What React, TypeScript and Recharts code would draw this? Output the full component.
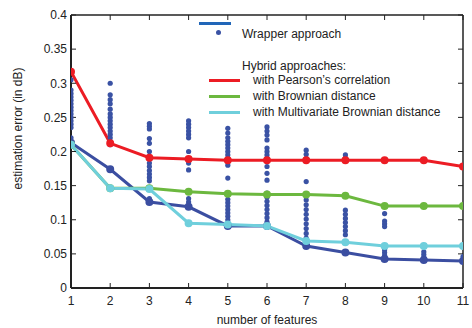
import { ComposedChart, Line, Scatter, XAxis, YAxis } from 'recharts';

const features = [1, 2, 3, 4, 5, 6, 7, 8, 9, 10, 11];
const wrapperBest = [0.213, 0.174, 0.126, 0.119, 0.091, 0.091, 0.0615, 0.052, 0.0425, 0.041, 0.0395];
const pearson = [0.317, 0.212, 0.191, 0.189, 0.187, 0.187, 0.187, 0.187, 0.187, 0.187, 0.178];
const brownian = [0.21, 0.146, 0.146, 0.141, 0.138, 0.137, 0.137, 0.135, 0.12, 0.12, 0.12];
const multivariate = [0.21, 0.146, 0.145, 0.095, 0.093, 0.091, 0.069, 0.067, 0.0615, 0.0615, 0.0615];

// all wrapper runs, one list per number of features
const wrapperRuns: number[][] = [
  [0.305, 0.29, 0.285, 0.28, 0.275, 0.27, 0.265, 0.26, 0.255, 0.25, 0.245, 0.24, 0.235, 0.22, 0.215],
  [0.3, 0.283, 0.276, 0.27, 0.262, 0.255, 0.25, 0.245, 0.24, 0.235, 0.23, 0.225, 0.22, 0.215, 0.21],
  [0.241, 0.237, 0.233, 0.219, 0.212, 0.2, 0.192, 0.183, 0.178, 0.172, 0.167, 0.162, 0.157, 0.146, 0.131, 0.126],
  [0.245, 0.24, 0.235, 0.23, 0.225, 0.22, 0.2, 0.19, 0.183, 0.173, 0.131, 0.126],
  [0.234, 0.227, 0.22, 0.215, 0.21, 0.205, 0.2, 0.195, 0.19, 0.185, 0.18, 0.161, 0.13, 0.125, 0.12, 0.115, 0.11, 0.105, 0.1, 0.095, 0.09],
  [0.236, 0.23, 0.224, 0.217, 0.205, 0.2, 0.195, 0.19, 0.178, 0.168, 0.158, 0.139, 0.133, 0.127, 0.121, 0.115, 0.109, 0.103, 0.097, 0.09],
  [0.202, 0.196, 0.19, 0.186, 0.156, 0.129, 0.122, 0.115, 0.108, 0.101, 0.094, 0.087, 0.08, 0.073, 0.066],
  [0.195, 0.19, 0.114, 0.108, 0.102, 0.096, 0.09, 0.084, 0.078],
  [0.109, 0.098, 0.094, 0.09, 0.056, 0.052, 0.048, 0.044],
  [0.053, 0.049, 0.045, 0.041],
  [0.046, 0.042, 0.039],
];

const yTicks = [0, 0.05, 0.1, 0.15, 0.2, 0.25, 0.3, 0.35, 0.4];

const chartData = features.map((x, i) => ({
  x,
  wrapper: wrapperBest[i],
  pearson: pearson[i],
  brownian: brownian[i],
  multivariate: multivariate[i],
}));

const scatterData = features.flatMap((x, i) => wrapperRuns[i].map(y => ({ x, y })));

const AXIS = '#222';
const DOT = '#3a52a4';
const tickStyle = { fill: '#222', fontSize: 12 };
const noLabel = () => <g />;

// y label sits a bit above the middle of the axis, like the original figure
const YLabel = ({ viewBox }: any) => {
  const cx = viewBox.x + 18;
  const cy = viewBox.y + viewBox.height / 2 - 23;
  return (
    <text x={cx} y={cy} transform={`rotate(-90, ${cx}, ${cy})`} textAnchor="middle" dominantBaseline="central" fill="#222" fontSize={12}>
      estimation error (in dB)
    </text>
  );
};

function Legend() {
  const row = (color: string, top: number, label: string) => (
    <div style={{ position: 'absolute', left: 209, top, display: 'flex', alignItems: 'center', height: 14 }}>
      <div style={{ width: 31, height: 3, background: color }} />
      <span style={{ marginLeft: 13, whiteSpace: 'nowrap' }}>{label}</span>
    </div>
  );
  return (
    <div style={{ position: 'absolute', left: 0, top: 0, fontSize: 12, color: '#222', lineHeight: '14px' }}>
      <div style={{ position: 'absolute', left: 199, top: 22, width: 32, height: 3, background: '#2166b8' }} />
      <div style={{ position: 'absolute', left: 215.5, top: 29.5, width: 5, height: 5, borderRadius: 3, background: DOT }} />
      <span style={{ position: 'absolute', left: 242, top: 27, whiteSpace: 'nowrap' }}>Wrapper approach</span>
      <span style={{ position: 'absolute', left: 242, top: 59, whiteSpace: 'nowrap' }}>Hybrid approaches:</span>
      {row('#ec1c24', 73, 'with Pearson’s correlation')}
      {row('#6cb83f', 89, 'with Brownian distance')}
      {row('#6fcfdc', 105, 'with Multivariate Brownian distance')}
    </div>
  );
}

export default function App() {
  return (
    <div style={{ position: 'absolute', left: 0, top: 0, width: 472, height: 328, background: '#fff', fontFamily: '"Liberation Sans", Arial, sans-serif' }}>
      <ComposedChart width={472} height={328} data={chartData} margin={{ top: 14, right: 0, bottom: 0, left: 0 }}>
        <XAxis
          dataKey="x"
          type="number"
          domain={[1, 11]}
          ticks={features}
          allowDataOverflow
          height={40}
          tickSize={-5}
          tickMargin={13}
          tick={tickStyle}
          axisLine={{ stroke: AXIS, strokeWidth: 2 }}
          tickLine={{ stroke: AXIS }}
          label={{ value: 'number of features', position: 'insideBottom', offset: 4, fill: '#222', fontSize: 12 }}
        />
        <XAxis
          xAxisId="top"
          dataKey="x"
          orientation="top"
          type="number"
          domain={[1, 11]}
          ticks={features}
          allowDataOverflow
          height={1}
          tickSize={-5}
          tick={noLabel}
          axisLine={{ stroke: AXIS, strokeWidth: 1.5 }}
          tickLine={{ stroke: AXIS }}
        />
        <YAxis
          type="number"
          domain={[0, 0.4]}
          ticks={yTicks}
          allowDataOverflow
          width={71}
          tickSize={-5}
          tickMargin={9}
          tick={tickStyle}
          axisLine={{ stroke: AXIS, strokeWidth: 2 }}
          tickLine={{ stroke: AXIS }}
          label={{ content: YLabel }}
        />
        <YAxis
          yAxisId="right"
          orientation="right"
          type="number"
          domain={[0, 0.4]}
          ticks={yTicks}
          allowDataOverflow
          width={9}
          tickSize={-5}
          tick={noLabel}
          axisLine={{ stroke: AXIS, strokeWidth: 1.5 }}
          tickLine={{ stroke: AXIS }}
        />
        {/* invisible series so the top and right frame axes get drawn */}
        <Line xAxisId="top" yAxisId="right" dataKey="pearson" stroke="none" dot={false} activeDot={false} legendType="none" isAnimationActive={false} />
        <Scatter data={scatterData} dataKey="y" fill={DOT} legendType="none" isAnimationActive={false}
          shape={(p: any) => <circle cx={p.cx} cy={p.cy} r={2.6} fill={DOT} />} />
        <Line dataKey="wrapper" stroke="#3b4ea1" strokeWidth={3} dot={{ r: 2.5, fill: '#3b4ea1', stroke: '#3b4ea1' }} isAnimationActive={false} />
        <Line dataKey="pearson" stroke="#ec1c24" strokeWidth={3} dot={{ r: 2.5, fill: '#ec1c24', stroke: '#ec1c24' }} isAnimationActive={false} />
        <Line dataKey="brownian" stroke="#6cb83f" strokeWidth={3} dot={{ r: 2.5, fill: '#6cb83f', stroke: '#6cb83f' }} isAnimationActive={false} />
        <Line dataKey="multivariate" stroke="#6fcfdc" strokeWidth={3} dot={{ r: 2.5, fill: '#6fcfdc', stroke: '#6fcfdc' }} isAnimationActive={false} />
      </ComposedChart>
      <Legend />
    </div>
  );
}
